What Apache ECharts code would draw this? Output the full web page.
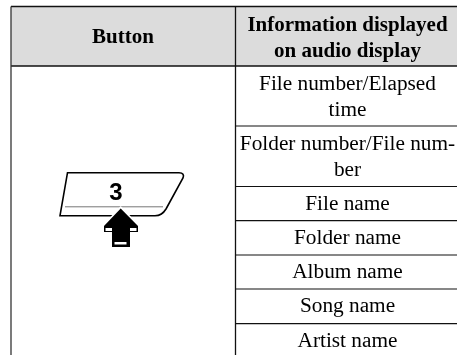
<!DOCTYPE html>
<html>
<head>
<meta charset="utf-8">
<style>
  html, body { margin: 0; padding: 0; background: #fff; }
  #main { width: 457px; height: 355px; }
</style>
<script src="https://cdn.jsdelivr.net/npm/echarts@6/dist/echarts.min.js"></script>
</head>
<body>
<div id="main"></div>
<script>
// table text
const headerLabels = ["Button", "Information displayed\non audio display"];
const infoRows = [
  "File number/Elapsed\ntime",
  "Folder number/File num-\nber",
  "File name",
  "Folder name",
  "Album name",
  "Song name",
  "Artist name",
];
const buttonLabel = "3";

// layout, in picture pixels
const colX = [11, 235.5, 457];
const headerY = [6.5, 66];
const rowBottoms = [126, 186.5, 220.7, 255, 289, 323.7, 358];
const lineColor = "#111";
const font = '"Liberation Serif", serif';

function textEl(api, x, y, text, size, weight, family) {
  const p = api.coord([x, y]);
  return {
    type: "text",
    x: p[0],
    y: p[1],
    silent: true,
    style: {
      text: text,
      fill: "#000",
      font: `${weight} ${size}px ${family}`,
      align: "center",
      verticalAlign: "middle",
      lineHeight: 26,
    },
  };
}

function lineEl(api, x1, y1, x2, y2, width, color) {
  const a = api.coord([x1, y1]);
  const b = api.coord([x2, y2]);
  return {
    type: "line",
    shape: { x1: a[0], y1: a[1], x2: b[0], y2: b[1] },
    style: { stroke: color || lineColor, lineWidth: width },
  };
}

// header band and grid lines
function renderFrame(params, api) {
  const a = api.coord([colX[0], headerY[0]]);
  const b = api.coord([colX[2], headerY[1]]);
  const children = [
    { type: "rect", shape: { x: a[0], y: a[1], width: b[0] - a[0], height: b[1] - a[1] }, style: { fill: "#dcdcdc" } },
    lineEl(api, colX[0], headerY[0], colX[2], headerY[0], 1.3),
    lineEl(api, colX[0], headerY[1], colX[2], headerY[1], 1.3),
    lineEl(api, colX[0], headerY[0], colX[0], 355, 1.3, "#333"),
    lineEl(api, colX[1], headerY[0], colX[1], 355, 1.3),
  ];
  rowBottoms.slice(0, -1).forEach((y) => children.push(lineEl(api, colX[1], y, colX[2], y, 1.2)));
  children.push(textEl(api, 123, 37.5, headerLabels[0], 21, "bold", font));
  children.push(textEl(api, 347.5, 38.5, headerLabels[1], 21, "bold", font));
  return { type: "group", children };
}

// one text cell per row of the right column
function renderRow(params, api) {
  const i = params.dataIndex;
  const top = i === 0 ? headerY[1] : rowBottoms[i - 1];
  const cy = (top + rowBottoms[i]) / 2;
  const shift = infoRows[i].includes("\n") ? 1.5 : 0.5;
  return textEl(api, 347.5, cy + shift, infoRows[i], 21.3, "normal", font);
}

// push-button icon
function renderIcon(params, api) {
  const c = (x, y) => api.coord([x, y]);
  const poly = (pts, style) => ({ type: "polygon", shape: { points: pts.map((p) => c(p[0], p[1])) }, style });
  const m = c(0, 0);
  const ox = m[0];
  const oy = m[1];
  const body =
    `M${ox + 67.5} ${oy + 172.7} L${ox + 179} ${oy + 172.7} Q${ox + 185} ${oy + 173} ${ox + 183} ${oy + 178} ` +
    `L${ox + 166} ${oy + 209} Q${ox + 162} ${oy + 215.7} ${ox + 155} ${oy + 215.7} L${ox + 60} ${oy + 215.7} Z`;
  return {
    type: "group",
    children: [
      { type: "path", shape: { pathData: body }, style: { fill: "#fff", stroke: "#000", lineWidth: 1.6 } },
      lineEl(api, 65, 206.8, 163, 206.8, 1, "#777"),
      textEl(api, 116, 193, buttonLabel, 24, "bold", '"Liberation Sans", sans-serif'),
      poly([[120.7, 206], [140, 226], [140, 233], [131, 233], [131, 248], [111, 248], [111, 233], [102, 233], [102, 226]], { fill: "#fff" }),
      poly([[120.7, 208.5], [138, 226], [138, 232], [130, 232], [130, 247], [112, 247], [112, 232], [104, 232], [104, 226]], { fill: "#000" }),
      poly([[105.5, 228], [112, 228], [112, 231], [105.5, 231]], { fill: "#fff" }),
      poly([[130, 228], [136.5, 228], [136.5, 231], [130, 231]], { fill: "#fff" }),
      poly([[114.5, 242], [126.5, 242], [126.5, 244.5], [114.5, 244.5]], { fill: "#fff" }),
    ],
  };
}

const chartDom = document.getElementById("main");
const myChart = echarts.init(chartDom);
const option = {
  animation: false,
  grid: { left: 0, right: 0, top: 0, bottom: 0 },
  xAxis: { type: "value", min: 0, max: 457, show: false },
  yAxis: { type: "value", min: 0, max: 355, inverse: true, show: false },
  series: [
    { type: "custom", silent: true, clip: false, coordinateSystem: "cartesian2d", data: [0], renderItem: renderFrame },
    { type: "custom", silent: true, clip: false, coordinateSystem: "cartesian2d", data: infoRows.map((t, i) => i), renderItem: renderRow },
    { type: "custom", silent: true, clip: false, coordinateSystem: "cartesian2d", data: [0], renderItem: renderIcon },
  ],
};
myChart.setOption(option);
</script>
</body>
</html>
